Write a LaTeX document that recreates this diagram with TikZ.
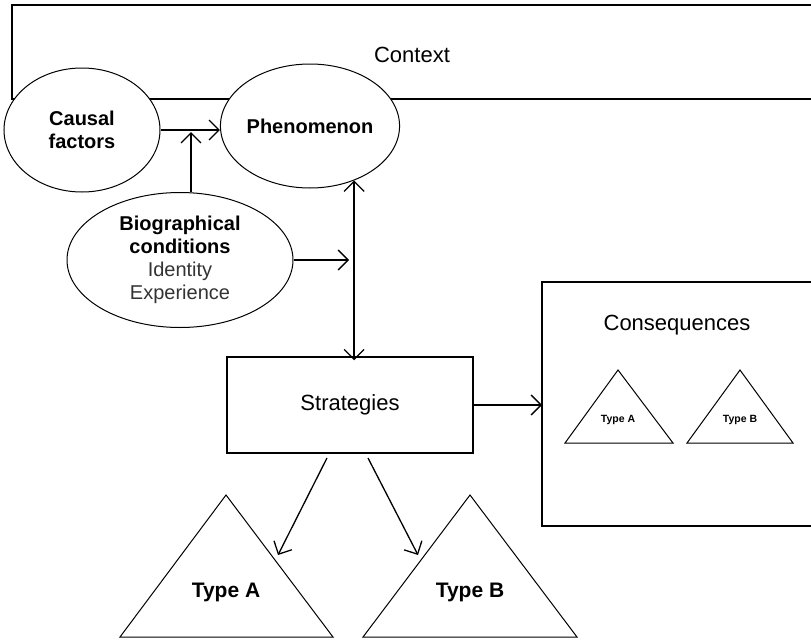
\documentclass[tikz,border=0pt]{standalone}
\usepackage{fontspec}
\setmainfont{Liberation Sans}
\usetikzlibrary{arrows.meta,calc,shapes.geometric}

\begin{document}
\begin{tikzpicture}[x=1pt,y=-1pt,line width=1.1pt,
  every node/.style={inner sep=0pt,align=center},
  oval/.style={draw,ellipse,fill=white,line width=1pt,inner sep=0pt},
  bigtxt/.style={font=\fontsize{22}{26}\selectfont},
  ovaltxt/.style={font=\bfseries\fontsize{20}{23}\selectfont},
  tri/.style={draw,line width=1pt,fill=white},
  arr/.style={line width=1.3pt,-{Straight Barb[length=10pt,width=20pt]}},
  darr/.style={line width=1.3pt,{Straight Barb[length=10pt,width=20pt]}-{Straight Barb[length=10pt,width=20pt]}}]
\useasboundingbox (0,0) rectangle (811,640);
\clip (0,0) rectangle (811,640);

% context band across the top
\draw[line width=1.3pt] (830,5) -- (12,5) -- (12,99) -- (830,99);
\node[bigtxt] (ctx) at (412,55) {Context};

% ovals
\node[oval,minimum width=156pt,minimum height=124pt,ovaltxt] (cause) at (82,130) {Causal\\factors};
\node[oval,minimum width=156pt,minimum height=124pt,ovaltxt] (phen) at (310,126) {Phenomenon};
\node[oval,minimum width=226pt,minimum height=135pt,font=\fontsize{20}{23}\selectfont] (bio) at (180,260)
  {\textbf{Biographical}\\\textbf{conditions}\\
   \textcolor[HTML]{333333}{Identity}\\\textcolor[HTML]{333333}{Experience}};

% strategies box
\node[draw,line width=1.3pt,minimum width=246pt,minimum height=96pt,bigtxt] (strat) at (350,405) {Strategies};

% consequences box
\draw[line width=1.3pt] (830,282) -- (542,282) -- (542,526) -- (830,526);
\coordinate (cons) at (542,404);
\node[bigtxt] (constxt) at (677,325) {Consequences};

% small triangles inside consequences
\draw[tri] (618,370) -- (673,443) -- (565,443) -- cycle;
\node[font=\bfseries\fontsize{10.5}{12}\selectfont] (ca) at (618,420) {Type A};
\draw[tri] (740,370) -- (793,443) -- (687,443) -- cycle;
\node[font=\bfseries\fontsize{10.5}{12}\selectfont] (cb) at (740,420) {Type B};

% big triangles below strategies
\draw[tri] (226,495) -- (333,637) -- (120,637) -- cycle;
\node[font=\bfseries\fontsize{21}{24}\selectfont] (ta) at (226,592) {Type A};
\draw[tri] (470,495) -- (577,637) -- (363,637) -- cycle;
\node[font=\bfseries\fontsize{21}{24}\selectfont] (tb) at (470,592) {Type B};

% connectors
\coordinate (bioup) at (191,132);
\coordinate (biotip) at (349,260);
\coordinate (sa) at (327,458);
\coordinate (sb) at (368,458);
\coordinate (ea) at (278,555);
\coordinate (eb) at (418,555);

\draw[arr] (cause.east) -- (cause.east -| phen.west);
\draw[arr] (bio.north -| bioup) -- (bioup);
\draw[arr] (bio.east) -- (biotip);
\draw[darr] (phen.-51) -- ($(phen.-51 |- strat.north)+(0,4)$);
\draw[arr] (strat.east) -- (strat.east -| cons);
\draw[arr] (sa) -- (ea);
\draw[arr] (sb) -- (eb);
\end{tikzpicture}
\end{document}
